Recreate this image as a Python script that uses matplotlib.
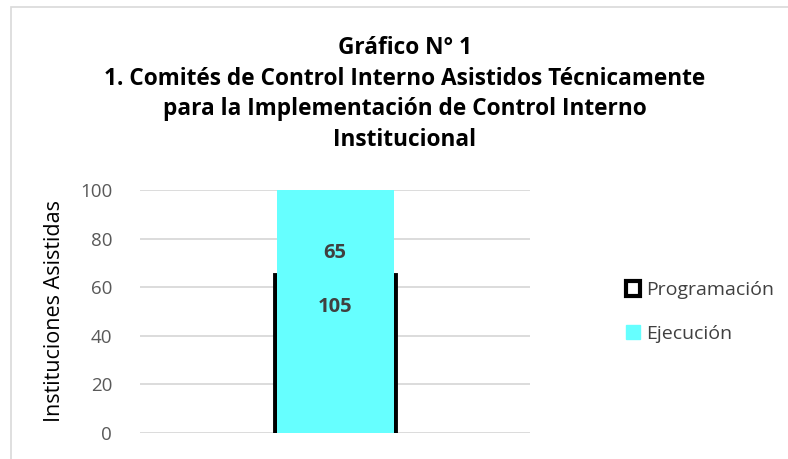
import matplotlib
matplotlib.use("Agg")
import matplotlib.pyplot as plt
from matplotlib.patches import Patch, Rectangle

# --- data -----------------------------------------------------------------
series = ["Programación", "Ejecución"]
values = [65, 105]
label_pos = [74, 52]          # where the data labels sit
label_text = ["65", "105"]
yticks = [0, 20, 40, 60, 80, 100]

C_PROG, C_EJEC, C_GRID, C_TXT = "black", "#66ffff", "#d9d9d9", "#404040"
FONT = ["Open Sans", "DejaVu Sans"]

fig = plt.figure(figsize=(7.88, 4.59), dpi=100)
fig.patch.set_facecolor("white")

# chart frame (only left and top visible)
fig.add_artist(Rectangle((11 / 788, -0.1), 1.2, (459 - 7) / 459 + 0.1,
                         transform=fig.transFigure, fill=False,
                         edgecolor="#d9d9d9", lw=1.2))

ax = fig.add_axes([140 / 788, 26 / 459, 390 / 788, 243 / 459])
ax.set_xlim(-1, 1)
ax.set_ylim(0, 100)

ax.bar(0, values[0], width=0.62, facecolor="white", edgecolor=C_PROG,
       lw=3.5, zorder=2)
ax.bar(0, values[1], width=0.6, color=C_EJEC, zorder=3)

for y, t in zip(label_pos, label_text):
    ax.text(0, y, t, ha="center", va="center", fontsize=14.5, fontweight="bold",
            color=C_TXT, family=FONT, zorder=4)

ax.set_yticks(yticks)
ax.set_xticks([])
ax.grid(axis="y", color=C_GRID, lw=1.3, zorder=0)
ax.set_axisbelow(True)
for s in ax.spines.values():
    s.set_visible(False)
ax.tick_params(axis="y", length=0, pad=20, labelsize=13.5, labelcolor="#595959")
for lb in ax.get_yticklabels():
    lb.set_family(FONT)
ax.set_ylabel("Instituciones Asistidas", fontsize=15.5, family=FONT,
              labelpad=11, color="black")

title = ("Gráfico N° 1\n1. Comités de Control Interno Asistidos Técnicamente\n"
         "para la Implementación de Control Interno\nInstitucional")
fig.text(405 / 788, 1 - 94 / 459, title, ha="center", va="center",
         fontsize=16.3, fontweight="bold", family=FONT, linespacing=1.38)

handles = [Patch(facecolor="white", edgecolor=C_PROG, lw=3),
           Patch(facecolor=C_EJEC, edgecolor=C_EJEC)]
leg = fig.legend(handles, series, loc="center left",
                 bbox_to_anchor=(608 / 788, 1 - 312 / 459), frameon=False,
                 handlelength=0.75, handleheight=0.75,
                 handletextpad=0.3, labelspacing=1.3,
                 prop={"family": FONT, "size": 14})
for t in leg.get_texts():
    t.set_color("#404040")

fig.savefig("out.png", dpi=100)
